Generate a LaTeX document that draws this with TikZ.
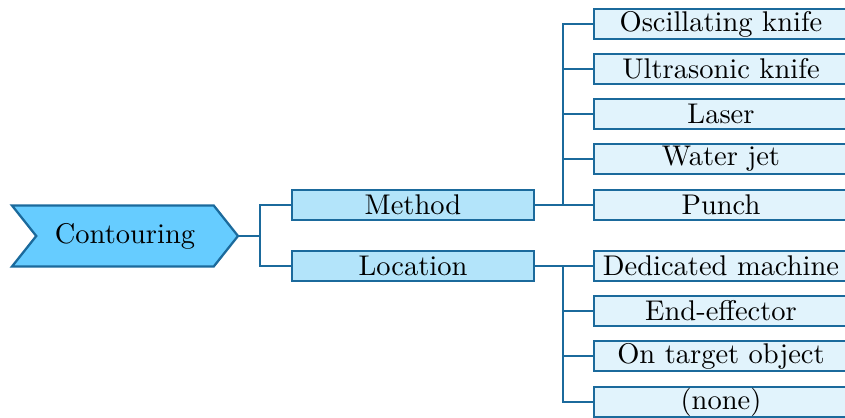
\documentclass[tikz,border=0pt]{standalone}
\usetikzlibrary{shapes.symbols}
\definecolor{edgeblue}{HTML}{1B6A9C}
\definecolor{rootfill}{HTML}{66CCFF}
\definecolor{midfill}{HTML}{B3E4FA}
\definecolor{leaffill}{HTML}{E1F3FC}
\begin{document}
\begin{tikzpicture}[x=0.351pt,y=-0.351pt,
  conn/.style={draw=edgeblue,line width=0.8pt},
  chev/.style={shape=signal,signal from=west,signal to=east,signal pointer angle=103,
    draw=edgeblue,fill=rootfill,line width=0.8pt,minimum width={226*0.351pt},minimum height={61*0.351pt},inner sep=0pt},
  midbox/.style={draw=edgeblue,fill=midfill,line width=0.8pt,minimum width={242*0.351pt},minimum height={30*0.351pt},inner sep=0pt},
  leafbox/.style={draw=edgeblue,fill=leaffill,line width=0.8pt,minimum width={254*0.351pt},minimum height={30*0.351pt},inner sep=0pt}]
\useasboundingbox (0,0) rectangle (845,418);
\clip (0,0) rectangle (845,418);
\node[chev] (root) at (125,236) {Contouring};
\node[midbox] (method) at (413,205) {Method};
\node[midbox] (location) at (413,266) {Location};
\node[leafbox] (osc) at (721,24) {Oscillating knife};
\node[leafbox] (ultra) at (721,69) {Ultrasonic knife};
\node[leafbox] (laser) at (721,114) {Laser};
\node[leafbox] (water) at (721,159) {Water jet};
\node[leafbox] (punch) at (721,205) {Punch};
\node[leafbox] (ded) at (721,266) {Dedicated machine};
\node[leafbox] (end) at (721,311) {End-effector};
\node[leafbox] (target) at (721,356) {On target object};
\node[leafbox] (none) at (721,402) {(none)};
\coordinate (j1) at (260,236);
\coordinate (j2) at (563,205);
\coordinate (j3) at (563,266);
\draw[conn] (root.east) -- (j1);
\draw[conn] (j1) |- (method.west);
\draw[conn] (j1) |- (location.west);
\draw[conn] (method.east) -- (punch.west);
\draw[conn] (j2) |- (osc.west);
\draw[conn] (j2) |- (ultra.west);
\draw[conn] (j2) |- (laser.west);
\draw[conn] (j2) |- (water.west);
\draw[conn] (location.east) -- (ded.west);
\draw[conn] (j3) |- (end.west);
\draw[conn] (j3) |- (target.west);
\draw[conn] (j3) |- (none.west);
\end{tikzpicture}
\end{document}
